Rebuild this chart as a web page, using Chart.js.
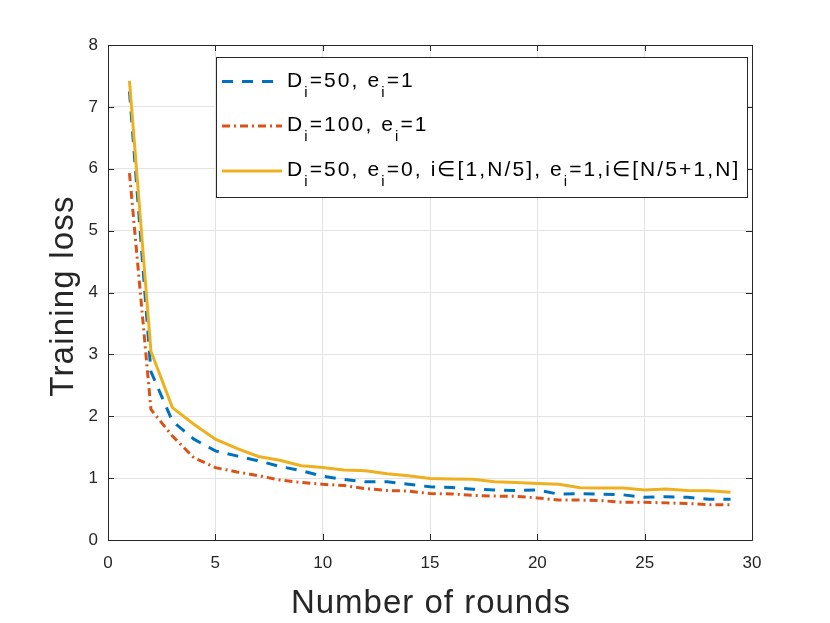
<!DOCTYPE html>
<html><head><meta charset="utf-8">
<script src="https://cdn.jsdelivr.net/npm/chart.js@4.4.0/dist/chart.umd.min.js"></script>
<style>html,body{margin:0;padding:0;background:#fff;}#wrap{width:830px;height:623px;position:relative;}</style>
</head><body><div id="wrap"><canvas id="c"></canvas></div>
<script>
const rounds = [1,2,3,4,5,6,7,8,9,10,11,12,13,14,15,16,17,18,19,20,21,22,23,24,25,26,27,28,29];
const lossD50 = [7.25,2.72,1.92,1.63,1.44,1.36,1.28,1.19,1.12,1.03,0.98,0.94,0.94,0.90,0.86,0.85,0.82,0.81,0.80,0.81,0.74,0.75,0.74,0.73,0.69,0.70,0.69,0.66,0.66];
const lossD100 = [5.93,2.11,1.68,1.33,1.17,1.10,1.04,0.97,0.93,0.90,0.88,0.83,0.80,0.79,0.75,0.745,0.72,0.71,0.705,0.68,0.645,0.645,0.635,0.61,0.61,0.60,0.59,0.57,0.57];
const lossMixed = [7.42,3.05,2.14,1.87,1.63,1.48,1.35,1.29,1.20,1.17,1.13,1.12,1.07,1.04,0.995,0.985,0.98,0.94,0.93,0.915,0.90,0.845,0.84,0.84,0.81,0.825,0.80,0.795,0.77];
const seriesLabels = ['D_i=50, e_i=1', 'D_i=100, e_i=1', 'D_i=50, e_i=0, i\u2208[1,N/5], e_i=1,i\u2208[N/5+1,N]'];
const xTicks = [0,5,10,15,20,25,30];
const yTicks = [0,1,2,3,4,5,6,7,8];
const xTitle = 'Number of rounds';
const yTitle = 'Training loss';

const FONT = '"Liberation Sans", Arial, Helvetica, sans-serif';
const colors = ['#0072BD', '#D95319', '#EDB120'];
const dashes = [[11,9],[8,4,2,4],[]];

function pts(ys){ return rounds.map((x,i)=>({x:x, y:ys[i]})); }

const frame = {
  id: 'frame',
  afterDatasetsDraw(chart){
    const {ctx, chartArea:a, scales:{x, y}} = chart;
    ctx.save();
    ctx.strokeStyle = '#262626';
    ctx.lineWidth = 1;
    ctx.beginPath();
    ctx.rect(Math.round(a.left)+0.5, Math.round(a.top)+0.5, Math.round(a.right-a.left), Math.round(a.bottom-a.top));
    ctx.stroke();
    const tl = 6;
    ctx.beginPath();
    xTicks.forEach(v=>{
      const px = Math.round(x.getPixelForValue(v))+0.5;
      ctx.moveTo(px, a.bottom); ctx.lineTo(px, a.bottom-tl);
      ctx.moveTo(px, a.top); ctx.lineTo(px, a.top+tl);
    });
    yTicks.forEach(v=>{
      const py = Math.round(y.getPixelForValue(v))+0.5;
      ctx.moveTo(a.left, py); ctx.lineTo(a.left+tl, py);
      ctx.moveTo(a.right, py); ctx.lineTo(a.right-tl, py);
    });
    ctx.stroke();
    // axis titles
    ctx.fillStyle = '#262626';
    ctx.textAlign = 'center';
    ctx.textBaseline = 'alphabetic';
    ctx.letterSpacing = '1px';
    ctx.font = '33px ' + FONT;
    ctx.fillText(xTitle, (a.left + a.right) / 2 + 1, 613);
    ctx.save();
    ctx.letterSpacing = '1.2px';
    ctx.font = '33px ' + FONT;
    ctx.translate(73, 296);
    ctx.rotate(-Math.PI / 2);
    ctx.fillText(yTitle, 0, 0);
    ctx.restore();
    ctx.restore();
  }
};

function drawRich(ctx, text, x, base){
  const parts = text.split(/(_i)/);
  let cx = x;
  parts.forEach(p=>{
    if(!p) return;
    if(p === '_i'){
      ctx.font = '15px ' + FONT;
      ctx.fillText('i', cx, base + 10);
      cx += ctx.measureText('i').width;
    } else {
      ctx.font = '21px ' + FONT;
      ctx.fillText(p, cx, base);
      cx += ctx.measureText(p).width;
    }
  });
}

const legendBox = {
  id: 'legendBox',
  afterDraw(chart){
    const ctx = chart.ctx;
    ctx.save();
    const bx = 216.5, by = 57.5, bw = 531, bh = 140;
    ctx.fillStyle = '#fff';
    ctx.fillRect(bx, by, bw, bh);
    ctx.strokeStyle = '#262626';
    ctx.lineWidth = 1;
    ctx.strokeRect(bx, by, bw, bh);
    const rowY = [81.5, 126, 171];
    chart.data.datasets.forEach((ds, i)=>{
      const ly = rowY[i];
      ctx.strokeStyle = ds.borderColor;
      ctx.lineWidth = 3;
      ctx.setLineDash(ds.borderDash || []);
      ctx.beginPath();
      ctx.moveTo(222, ly); ctx.lineTo(282, ly);
      ctx.stroke();
      ctx.setLineDash([]);
      ctx.fillStyle = '#000';
      ctx.textAlign = 'left';
      ctx.textBaseline = 'alphabetic';
      ctx.letterSpacing = '2.1px';
      drawRich(ctx, ds.label, 287, ly + 5);
    });
    ctx.restore();
  }
};

new Chart(document.getElementById('c'), {
  type: 'line',
  data: {
    datasets: [
      {label: seriesLabels[0], data: pts(lossD50), borderColor: colors[0], borderDash: dashes[0], order: 2},
      {label: seriesLabels[1], data: pts(lossD100), borderColor: colors[1], borderDash: dashes[1], order: 1},
      {label: seriesLabels[2], data: pts(lossMixed), borderColor: colors[2], borderDash: dashes[2], order: 0}
    ].map(d=>Object.assign(d, {borderWidth: 3, pointRadius: 0, fill: false, tension: 0}))
  },
  options: {
    responsive: true,
    maintainAspectRatio: false,
    animation: false,
    layout: {padding: {left: 0, right: 78, top: 45, bottom: 0}},
    plugins: {legend: {display: false}, tooltip: {enabled: false}},
    scales: {
      x: {
        type: 'linear', min: 0, max: 30,
        afterBuildTicks: s => { s.ticks = xTicks.map(v=>({value: v})); },
        ticks: {font: {family: FONT, size: 17}, color: '#262626', padding: 13, maxRotation: 0},
        grid: {color: '#e3e3e3', drawTicks: false, lineWidth: 1},
        border: {display: false},
        title: {display: false},
        afterFit: s => { s.height = 83; }
      },
      y: {
        type: 'linear', min: 0, max: 8,
        afterBuildTicks: s => { s.ticks = yTicks.map(v=>({value: v})); },
        ticks: {font: {family: FONT, size: 17}, color: '#262626', padding: 10},
        grid: {color: '#e3e3e3', drawTicks: false, lineWidth: 1},
        border: {display: false},
        title: {display: false},
        afterFit: s => { s.width = 108; }
      }
    }
  },
  plugins: [frame, legendBox]
});
</script>
</body></html>
